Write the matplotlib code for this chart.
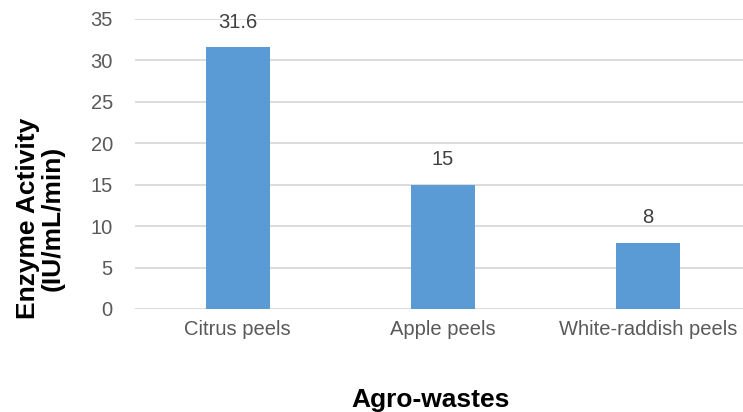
import matplotlib
matplotlib.use('Agg')
import matplotlib.pyplot as plt

plt.rcParams['font.family'] = ['Liberation Sans', 'DejaVu Sans']

# enzyme activity per agro-waste substrate
categories = ['Citrus peels', 'Apple peels', 'White-raddish peels']
activity = [31.6, 15, 8]
value_labels = ['31.6', '15', '8']

fig = plt.figure(figsize=(7.43, 4.12), dpi=100)
ax = fig.add_axes([135 / 743, 0.25, 608 / 743, 0.7039])

x = range(len(categories))
bars = ax.bar(x, activity, width=0.312, color='#5B9BD5', zorder=3)

for rect, lbl in zip(bars, value_labels):
    ax.annotate(lbl, (rect.get_x() + rect.get_width() / 2, rect.get_height()),
                xytext=(0, 11), textcoords='offset points',
                ha='center', va='bottom', fontsize=14.5, color='#404040')

ax.set_xlim(-0.5, 2.5 - 7.5 / 205)
ax.set_ylim(0, 35)
ax.set_yticks(range(0, 36, 5))
ax.set_xticks(list(x))
ax.set_xticklabels(categories)
ax.yaxis.grid(True, color='#D9D9D9', linewidth=1.3, zorder=0)
ax.set_axisbelow(True)
for s in ax.spines.values():
    s.set_visible(False)
ax.tick_params(axis='both', length=0, labelsize=14.5, labelcolor='#595959')
ax.tick_params(axis='y', pad=16)
ax.tick_params(axis='x', pad=8)

fig.text(40 / 743, 1 - 218 / 412, 'Enzyme Activity\n(IU/mL/min)', rotation=90,
         ha='center', va='center', multialignment='center',
         fontsize=19, fontweight='bold', linespacing=1.05)
fig.text(431 / 743, 1 - 407 / 412, 'Agro-wastes', ha='center', va='baseline',
         fontsize=19, fontweight='bold')

fig.savefig('out.png', dpi=100)
